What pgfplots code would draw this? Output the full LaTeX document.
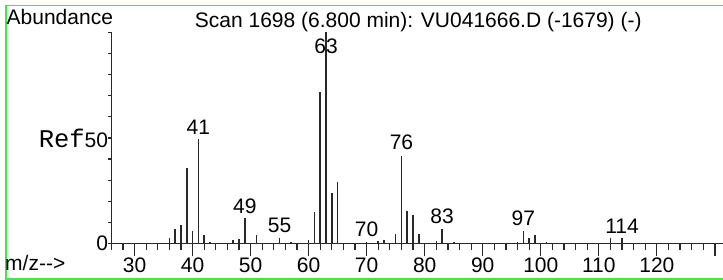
\documentclass[border=0pt]{standalone}
\usepackage{fontspec}
\setmainfont{Liberation Sans}
\newfontfamily\refmono{Liberation Mono}
\usepackage{pgfplots}
\pgfplotsset{compat=1.18}
\definecolor{frame}{RGB}{60,235,60}
\definecolor{ink}{RGB}{40,40,40}
\begin{document}
\begin{tikzpicture}[x=1pt,y=1pt]
\useasboundingbox (0,0) rectangle (723,280);
\draw[frame, line width=1.5pt] (6,1) rectangle (740,274.3);
\begin{axis}[
  at={(111.3pt,36.5pt)}, anchor=south west, scale only axis,
  width=612.3pt, height=211pt,
  xmin=26, xmax=131.5, ymin=0, ymax=100,
  clip=false,
  axis x line=bottom, axis y line=left,
  axis line style={-, ink, line width=1.2pt},
  tick align=outside,
  major tick length=12.5pt,
  minor tick length=6.5pt,
  tick style={ink, line width=1.2pt},
  xtick={30,40,...,130},
  xticklabels={30,40,50,60,70,80,90,100,110,120,{}},
  minor xtick={26,28,...,130},
  ytick={0,50},
  yticklabels={0,{{\refmono\fontsize{25.5}{25.5}\selectfont Ref}50}},
  ytick style={draw=none},
  extra y ticks={0,10,...,100},
  extra y tick labels={},
  extra y tick style={major tick length=3pt, ytick style={draw=ink}},
  /pgf/number format/assume math mode=true,
  tick label style={font=\fontsize{21}{21}\selectfont},
  xticklabel style={anchor=base, yshift=-17pt},
  yticklabel style={anchor=east, inner sep=0pt, xshift=9.5pt},
]
\addplot[ycomb, mark=none, ink, line width=1.6pt] coordinates {
(36,2.7) (37,7.0) (38,8.8) (39,35.6) (40,5.9) (41,49.4) (42,3.9) (43,0.9)
(47,1.7) (48,2.0) (49,11.9) (51,3.9) (55,2.6) (57,0.9)
(60,1.7) (61,14.9) (62,71.8) (63,100) (64,24.1) (65,29.3)
(70,0.9) (72,1.2) (73,1.7) (75,4.5) (76,41.5) (77,15.5) (78,13.5) (79,4.5)
(82,1.2) (83,6.9) (85,0.9)
(96,0.9) (97,5.9) (98,2.8) (99,3.9) (101,0.7)
(112,2.5) (114,2.5)
};
\begin{scope}[every node/.style={anchor=south, inner sep=0pt, font=\fontsize{21}{21}\selectfont}]
\node[yshift=5pt] at (axis cs:41,49.4) {41};
\node[yshift=4pt] at (axis cs:49,11.9) {49};
\node[yshift=5pt] at (axis cs:55,2.6) {55};
\node at (axis cs:63,90) {63};
\node[yshift=4.5pt] at (axis cs:70,0.9) {70};
\node[yshift=6pt] at (axis cs:76,41.5) {76};
\node[yshift=5pt] at (axis cs:83,6.9) {83};
\node[yshift=5pt] at (axis cs:97,5.9) {97};
\node[yshift=5pt] at (axis cs:114,2.5) {114};
\end{scope}
\end{axis}
\begin{scope}[every node/.style={inner sep=0pt, font=\fontsize{21}{21}\selectfont}]
\node[anchor=base west] at (6.5,255) {Abundance};
\node[anchor=base] at (418.3,252) {Scan 1698 (6.800 min): VU041666.D (-1679) (-)};
\node[anchor=base west] at (5,9) {m/z{-}{-}>};
\end{scope}
\end{tikzpicture}
\end{document}
